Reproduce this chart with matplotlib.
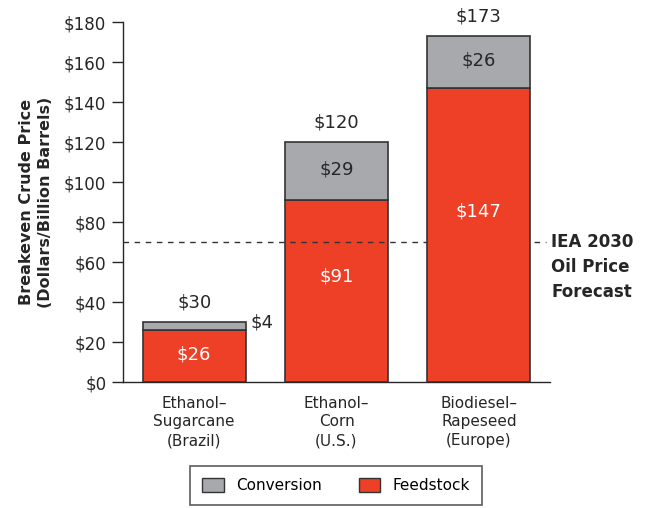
import matplotlib
matplotlib.use("Agg")
import matplotlib.pyplot as plt
from matplotlib.patches import Patch

categories = ["Ethanol–\nSugarcane\n(Brazil)", "Ethanol–\nCorn\n(U.S.)", "Biodiesel–\nRapeseed\n(Europe)"]
feedstock = [26, 91, 147]
conversion = [4, 29, 26]
totals = [30, 120, 173]
iea_price = 70
yticks = list(range(0, 181, 20))

RED = "#EE4026"
GRAY = "#A7A9AC"
EDGE = "#333333"
TXT = "#262626"

plt.rcParams['font.family'] = ['DejaVu Sans']
fig = plt.figure(figsize=(6.46, 5.08), dpi=100)
ax = fig.add_axes([123/646, 1-382/508, 427/646, 360/508])

x = list(range(len(categories)))
w = 0.725
b1 = ax.bar(x, feedstock, width=w, color=RED, edgecolor=EDGE, linewidth=1.2, zorder=3)
b2 = ax.bar(x, conversion, bottom=feedstock, width=w, color=GRAY, edgecolor=EDGE, linewidth=1.2, zorder=3)
# the forecast line is drawn over the middle bar but under the last one
b1.patches[2].set_zorder(5)
b2.patches[2].set_zorder(5)

for i in x:
    fy = feedstock[i] * (0.52 if feedstock[i] < 50 else 0.58)
    ax.text(i, fy, f"${feedstock[i]}", ha='center', va='center', color='white', fontsize=13, zorder=6)
    ax.text(i, totals[i] + 10, f"${totals[i]}", ha='center', va='center', color=TXT, fontsize=13)
    if conversion[i] >= 10:
        ax.text(i, feedstock[i] + conversion[i]/2 + 0.7, f"${conversion[i]}", ha='center', va='center', color=TXT, fontsize=13, zorder=6)
    else:
        ax.text(i + w/2 + 0.03, totals[i], f"${conversion[i]}", ha='left', va='center', color=TXT, fontsize=13)

ax.plot([-0.5, 2.47], [iea_price, iea_price], linestyle=(0, (4, 4)), color='#333333', linewidth=1, zorder=4, clip_on=False)
ax.text(2.51, iea_price + 4.5, "IEA 2030\nOil Price\nForecast", ha='left', va='top', fontsize=12, fontweight='bold',
        color=TXT, linespacing=1.5)

ax.set_xlim(-0.5, 2.5)
ax.set_ylim(0, 180)
ax.set_yticks(yticks)
ax.set_yticklabels([f"${v}" for v in yticks], fontsize=12, color=TXT)
ax.set_xticks(x)
ax.set_xticklabels(categories, fontsize=11, color=TXT, linespacing=1.3)
ax.tick_params(axis='x', length=0, pad=10)
ax.tick_params(axis='y', length=8, width=1, color=TXT, pad=4)
for s in ['top', 'right']:
    ax.spines[s].set_visible(False)
for s in ['left', 'bottom']:
    ax.spines[s].set_color(TXT)
    ax.spines[s].set_linewidth(1)

ax.set_ylabel("Breakeven Crude Price\n(Dollars/Billion Barrels)", fontsize=11.5, fontweight='bold',
              color=TXT, linespacing=1.3, labelpad=8)

handles = [Patch(facecolor=GRAY, edgecolor=EDGE, label='Conversion'),
           Patch(facecolor=RED, edgecolor=EDGE, label='Feedstock')]
leg = fig.legend(handles=handles, loc='center', bbox_to_anchor=(336/646, 1-485.5/508), ncol=2, frameon=True,
                 fancybox=False, edgecolor='#333333', fontsize=11, columnspacing=2.4, handlelength=1.4,
                 handleheight=1.0, borderpad=0.8, handletextpad=0.8)
leg.get_frame().set_linewidth(1.2)

fig.savefig("out.png", dpi=100)
